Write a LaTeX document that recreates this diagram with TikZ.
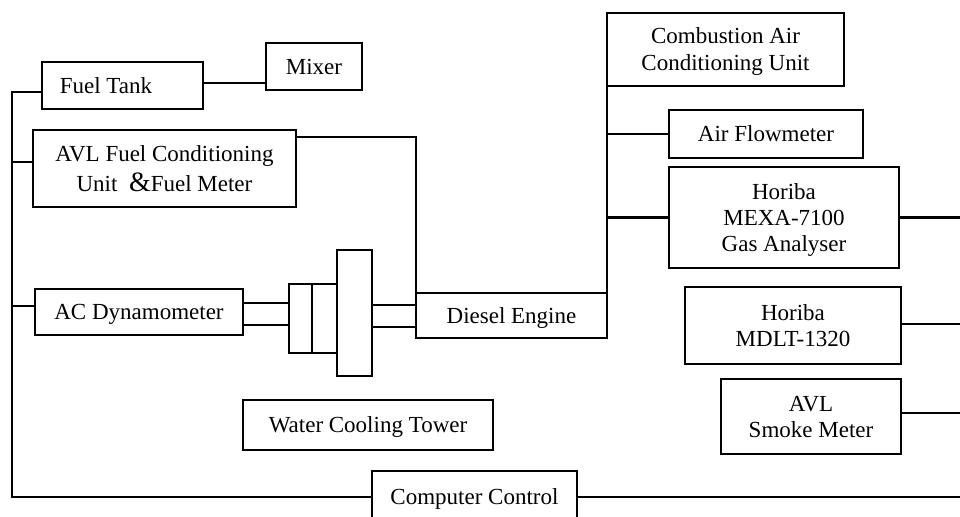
\documentclass[tikz,border=0pt]{standalone}
\usepackage{fontspec}
\setmainfont{Liberation Serif}
\usepackage{tikz}
\usetikzlibrary{positioning, calc}

\begin{document}
\begin{tikzpicture}[x=0.5pt, y=-0.5pt,
    box/.style={draw, line width=1.3pt, inner sep=0pt, outer sep=0pt, text depth=0pt, align=center, font=\fontsize{11.5}{13}\selectfont},
    link/.style={line width=1.3pt}]
    \clip (0,0) rectangle (960,517);

    % Fuel side
    \node[box, minimum width=80.5pt, minimum height=23.5pt] (tank) at (122.5,85.5) {Fuel Tank\hspace{16.5pt}};
    \node[box, minimum width=48pt, minimum height=23.5pt] (mixer) at (314,66.5) {Mixer};
    \node[box, minimum width=131.5pt, minimum height=38.5pt] (avl) at (164.5,168.5) {AVL Fuel Conditioning\\[2pt]Unit~~{\fontsize{14}{12}\selectfont\&}Fuel Meter};

    % Test bed
    \node[box, minimum width=104pt, minimum height=23pt] (dyno) at (139,312) {AC Dynamometer};
    \node[box, minimum width=95.5pt, minimum height=22.5pt] (engine) at (511.5,315.5) {Diesel Engine};
    \node[box, minimum width=125pt, minimum height=25pt] (tower) at (368,425) {Water Cooling Tower};
    \node[box, minimum width=102.5pt, minimum height=26pt] (control) at (474.5,497) {Computer Control};

    % Shaft, coupling and flywheel
    \draw[link] (243,303) rectangle (289,325);
    \draw[link] (289,284) rectangle (312,353);
    \draw[link] (312,284) rectangle (337,353);
    \draw[link] (337,250) rectangle (372,376);
    \draw[link] (372,305) rectangle (416,327);

    % Measurement side
    \node[box, minimum width=118.5pt, minimum height=36.5pt] (comb) at (725.5,49.5) {Combustion Air\\[0.5pt]Conditioning Unit};
    \node[box, minimum width=97pt, minimum height=24pt] (flow) at (766,134) {Air Flowmeter};
    \node[box, minimum width=115pt, minimum height=50.5pt] (mexa) at (784,217.5) {Horiba\\MEXA-7100\\Gas Analyser};
    \node[box, minimum width=108pt, minimum height=38.5pt] (mdlt) at (793,325.5) {Horiba\\MDLT-1320};
    \node[box, minimum width=90pt, minimum height=37.5pt] (smoke) at (811,416.5) {AVL\\Smoke Meter};

    % Connections
    \coordinate (lbus) at (12,92);
    \coordinate (rbus) at ([yshift=-8.75pt]comb.west);
    \coordinate (edge) at (975,0);
    \draw[link] ([yshift=-3.25pt]tank.west) -- (lbus) |- (control.west);
    \draw[link] ([yshift=3.25pt]avl.west) -- ([yshift=3.25pt]avl.west -| lbus);
    \draw[link] ([yshift=3pt]dyno.west) -- ([yshift=3pt]dyno.west -| lbus);
    \draw[link] ([yshift=1.25pt]tank.east) -- ([yshift=1.25pt]tank.east -| mixer.west);
    \draw[link] ([yshift=-3.5pt]avl.north east) -| (engine.north west);
    \draw[link] (rbus) -- (engine.north east);
    \draw[link] (flow.west) -- (flow.west -| rbus);
    \draw[link] (mexa.west) -- (mexa.west -| rbus);
    \draw[link] (mexa.east) -- (mexa.east -| edge);
    \draw[link] ([yshift=0.75pt]mdlt.east) -- ([yshift=0.75pt]mdlt.east -| edge);
    \draw[link] ([yshift=1.75pt]smoke.east) -- ([yshift=1.75pt]smoke.east -| edge);
    \draw[link] (control.east) -- (control.east -| edge);
\end{tikzpicture}
\end{document}
